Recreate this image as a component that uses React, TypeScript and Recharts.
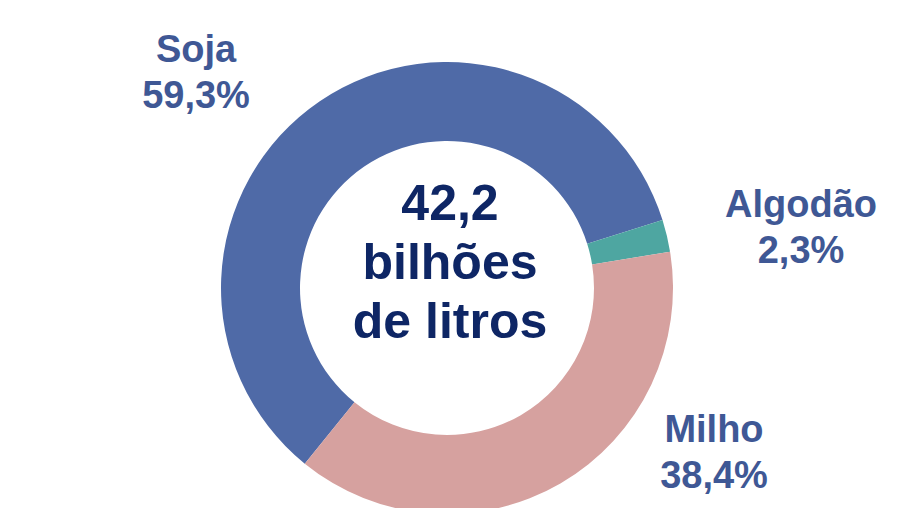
import React from 'react';
import { PieChart, Pie, Cell } from 'recharts';

const crops = ['Soja', 'Algodão', 'Milho'];
const shares = [59.3, 2.3, 38.4];
const shareLabels = ['59,3%', '2,3%', '38,4%'];
const centerLines = ['42,2', 'bilhões', 'de litros'];

const colors = ['#4F6AA7', '#4EA6A1', '#D6A19F'];
// where each outside label sits, relative to the pie centre
const labelOffsets = [
  { dx: -251, dy: -226 },
  { dx: 354, dy: -71 },
  { dx: 267, dy: 154 },
];

const data = crops.map((name, i) => ({ name, value: shares[i], pct: shareLabels[i] }));

const FONT = '"Liberation Sans", Arial, sans-serif';

const renderLabel = (props: any) => {
  const { cx, cy, index } = props;
  const off = labelOffsets[index];
  const x = cx + off.dx;
  const y = cy + off.dy;
  return (
    <g>
      <text
        x={x}
        y={y}
        textAnchor="middle"
        fill="#3F5895"
        fontFamily={FONT}
        fontWeight="bold"
        fontSize={38}
      >
        <tspan x={x} dy={0}>{data[index].name}</tspan>
        <tspan x={x} dy={46}>{data[index].pct}</tspan>
      </text>
      {index === 0 && (
        <text
          x={cx + 3}
          y={cy - 68}
          textAnchor="middle"
          fill="#0E2665"
          fontFamily={FONT}
          fontWeight="bold"
          fontSize={50}
        >
          {centerLines.map((line, i) => (
            <tspan key={i} x={cx + 3} dy={i === 0 ? 0 : 59}>{line}</tspan>
          ))}
        </text>
      )}
    </g>
  );
};

const App: React.FC = () => {
  return (
    <div style={{ position: 'absolute', left: 0, top: 0, width: 905, height: 508, background: '#fff' }}>
      <PieChart width={905} height={508}>
        <Pie
          data={data}
          dataKey="value"
          nameKey="name"
          cx={442}
          cy={283}
          innerRadius={147}
          outerRadius={226}
          startAngle={231}
          endAngle={-129}
          stroke="none"
          label={renderLabel}
          labelLine={false}
          isAnimationActive={false}
        >
          {data.map((d, i) => (
            <Cell key={d.name} fill={colors[i]} />
          ))}
        </Pie>
      </PieChart>
    </div>
  );
};

export default App;
